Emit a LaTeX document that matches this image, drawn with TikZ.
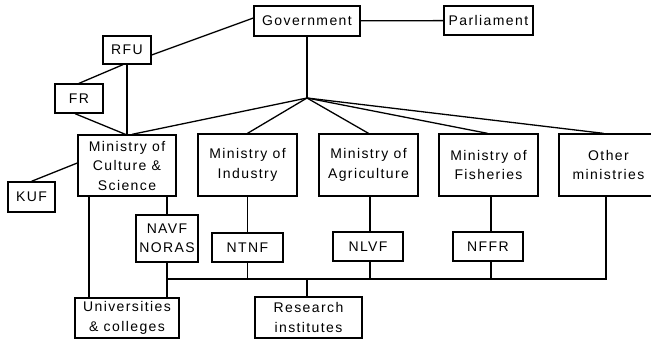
\documentclass[tikz,border=0pt]{standalone}
\usepackage{fontspec}
\setmainfont{Liberation Sans}[LetterSpace=10]
\usetikzlibrary{calc}
\begin{document}
\begin{tikzpicture}[x=1pt,y=-1pt,line width=1.3pt,
  box/.style={draw,rectangle,inner sep=0pt,align=center,font=\fontsize{14}{19.5}\selectfont},
  ln/.style={line width=1.3pt}]
\clip (0,0) rectangle (651,339);
\fill[white] (0,0) rectangle (651,339);
\node[box,minimum width=106pt,minimum height=30pt] (gov) at (307,21) {Government};
\node[box,minimum width=89pt,minimum height=29pt] (parl) at (488.5,20.5) {Parliament};
\node[box,minimum width=48pt,minimum height=28pt] (rfu) at (127,50) {RFU};
\node[box,minimum width=48pt,minimum height=29pt] (fr) at (79,98.5) {FR};
\node[box,minimum width=98pt,minimum height=61pt] (cul) at (127,165.5) {Ministry of\\Culture \&\\Science};
\node[box,minimum width=99pt,minimum height=62pt] (ind) at (247.5,165) {Ministry of\\Industry};
\node[box,minimum width=99pt,minimum height=62pt] (agr) at (368.5,165) {Ministry of\\Agriculture};
\node[box,minimum width=99pt,minimum height=62pt] (fis) at (488.5,165) {Ministry of\\Fisheries};
\node[box,minimum width=99pt,minimum height=62pt] (oth) at (608.5,165) {Other\\ministries};
\node[box,minimum width=47pt,minimum height=30pt] (kuf) at (31.5,197) {KUF};
\node[box,minimum width=62pt,minimum height=47pt] (navf) at (167,238.5) {NAVF\\NORAS};
\node[box,minimum width=71pt,minimum height=29pt] (ntnf) at (247.5,247.5) {NTNF};
\node[box,minimum width=70pt,minimum height=29pt] (nlvf) at (368,246.5) {NLVF};
\node[box,minimum width=70pt,minimum height=29pt] (nffr) at (488,246.5) {NFFR};
\node[box,minimum width=104pt,minimum height=40pt] (uni) at (127,318) {Universities\\\& colleges};
\node[box,minimum width=107pt,minimum height=41pt] (res) at (308.5,317.5) {Research\\institutes};
\coordinate (hub) at (307,98);
\coordinate (ctop) at (127,135);
\coordinate (busL) at (167,279);
\coordinate (busR) at (606,279);
% top links
\draw[ln] (gov) -- (parl);
\draw[ln] ($(gov.west)+(0,-3)$) -- ($(rfu.east)+(0,5)$);
\draw[ln] ($(rfu.south)+(-4,0)$) -- (fr.north);
\draw[ln] (rfu.south) -- (ctop);
\draw[ln] ($(fr.south)+(-4,0)$) -- (ctop);
\draw[ln] (gov.south) -- (hub);
\draw[ln] (hub) -- ($(cul.north)+(5,0)$);
\draw[ln] (hub) -- (ind.north);
\draw[ln] (hub) -- (agr.north);
\draw[ln] (hub) -- ($(fis.north)+(-1,0)$);
\draw[ln] (hub) -- ($(oth.north)+(-5,0)$);
\draw[ln] (kuf.north) -- ($(cul.west)+(0,-2.5)$);
% lower links
\draw[ln] ($(cul.south)+(-38,0)$) -- ($(uni.north)+(-38,0)$);
\draw[ln] (cul.south -| navf.north) -- (navf.north);
\draw[ln] (navf.south) -- (navf.south |- uni.north);
\draw[ln] (ind.south -| ntnf.north) -- (ntnf.north);
\draw[ln] ($(agr.south)+(1.5,0)$) -- ($(nlvf.north)+(2,0)$);
\draw[ln] ($(fis.south)+(2.5,0)$) -- ($(nffr.north)+(3,0)$);
\draw[ln] (busL) -- (busR) -- (busR |- oth.south);
\draw[ln] (ntnf.south) -- (ntnf.south |- busL);
\draw[ln] ($(nlvf.south)+(2,0)$) -- ($(nlvf.south |- busL)+(2,0)$);
\draw[ln] ($(nffr.south)+(3,0)$) -- ($(nffr.south |- busL)+(3,0)$);
\draw[ln] (busL -| gov.south) -- (gov.south |- res.north);
\end{tikzpicture}
\end{document}
